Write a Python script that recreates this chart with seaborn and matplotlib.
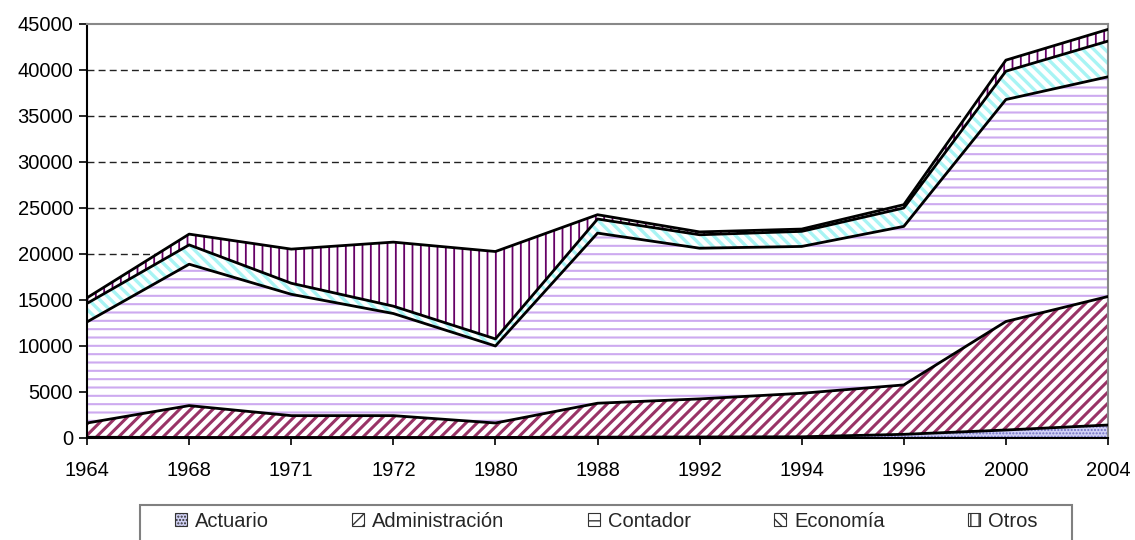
import numpy as np
import pandas as pd
import matplotlib
matplotlib.use("Agg")
import matplotlib.pyplot as plt
import seaborn as sns
from matplotlib.patches import Patch, Rectangle

# data
years = ['1964', '1968', '1971', '1972', '1980', '1988', '1992', '1994', '1996', '2000', '2004']
actuario = [50, 30, 30, 30, 30, 60, 80, 100, 370, 840, 1380]
administracion = [1550, 3460, 2370, 2370, 1570, 3690, 4140, 4730, 5370, 11790, 13970]
contador = [10990, 15370, 13190, 11100, 8370, 18490, 16380, 15960, 17230, 24130, 23880]
economia = [2010, 2100, 1200, 800, 770, 1530, 1460, 1640, 2000, 3080, 3880]
otros = [610, 1170, 3710, 6960, 9500, 470, 310, 250, 360, 1200, 1270]

series = ['Actuario', 'Administración', 'Contador', 'Economía', 'Otros']
df = pd.DataFrame({'Año': years, 'Actuario': actuario, 'Administración': administracion,
                   'Contador': contador, 'Economía': economia, 'Otros': otros})

# fill styles: (facecolor, hatch, hatch colour, hatch linewidth)
styles = {
    'Actuario': ('#d0d0f4', '.....', '#7070c8', 1.0),
    'Administración': ('white', '///', '#993366', 2.2),
    'Contador': ('white', '--', '#cdaaf0', 1.5),
    'Economía': ('white', '\\\\\\', '#a8f4f4', 2.4),
    'Otros': ('white', '||', '#660066', 1.3),
}

sns.set_style("white")
plt.rcParams['font.family'] = ['Liberation Sans', 'DejaVu Sans']

fig = plt.figure(figsize=(11.35, 5.4), dpi=100)
ax = fig.add_axes([0.0767, 0.1894, 0.8995, 0.7667])

x = np.arange(len(years))
bottom = np.zeros(len(years))
for name in series:
    fc, hatch, hc, hlw = styles[name]
    top = bottom + df[name].to_numpy()
    with plt.rc_context({'hatch.linewidth': hlw}):
        coll = ax.fill_between(x, bottom, top, facecolor=fc, hatch=hatch,
                               edgecolor=hc, linewidth=0, zorder=2)
    if hasattr(coll, 'set_hatch_linewidth'):
        coll.set_hatch_linewidth(hlw)
    sns.lineplot(x=x, y=top, color='black', linewidth=2, ax=ax, zorder=3)
    bottom = top

ax.set_xlim(0, len(years) - 1)
ax.set_ylim(0, 45000)
ax.set_yticks(np.arange(0, 45001, 5000))
ax.set_xticks(x)
ax.set_xticklabels(years)
ax.tick_params(axis='both', labelsize=14.5, colors='black', width=1.2,
               direction='out', bottom=True, left=True)
ax.tick_params(axis='y', length=6, pad=4)
ax.tick_params(axis='x', length=5, pad=12)

for v in range(5000, 45000, 5000):
    ax.axhline(v, color='#222222', linewidth=1, linestyle=(0, (5, 3)), zorder=1)

for side in ['left', 'bottom']:
    ax.spines[side].set_color('black')
    ax.spines[side].set_linewidth(1.5)
for side in ['top', 'right']:
    ax.spines[side].set_color('#888888')
    ax.spines[side].set_linewidth(1.5)
    ax.spines[side].set_visible(True)

handles = []
for name in series:
    fc, hatch, hc, hlw = styles[name]
    handles.append(Patch(facecolor=fc, hatch=hatch, edgecolor='#333333', linewidth=0.8, label=name))

# legend entries spread across, frame drawn separately (runs off the bottom edge)
fig.legend(handles=handles, loc='upper left', ncol=5, mode='expand',
           bbox_to_anchor=(0.1542, -0.05, 0.7600, 0.102), borderaxespad=0,
           fontsize=14.5, frameon=False,
           handlelength=0.6, handleheight=0.6, handletextpad=0.4, borderpad=0)
fig.add_artist(Rectangle((0.1233, -0.02), 0.8211, 0.0848, transform=fig.transFigure,
                         facecolor='none', edgecolor='#808080', linewidth=1.5))

fig.savefig("out.png", dpi=100)
plt.close(fig)
